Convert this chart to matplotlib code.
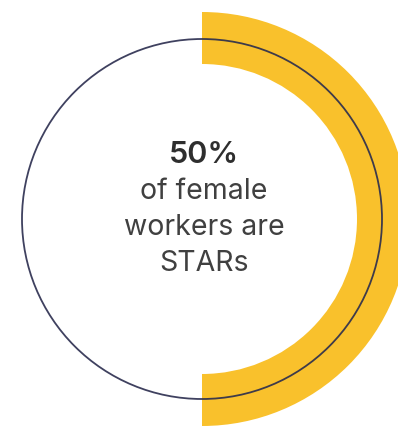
import matplotlib
matplotlib.use("Agg")
import matplotlib.pyplot as plt
from matplotlib.patches import Circle, Wedge

# Share of female workers who are STARs
star_share = [50]
label_lines = ["of female", "workers are", "STARs"]

ring_color = "#F9C12C"
outline_color = "#2A2C4E"
text_color = "#404040"

W, H = 398, 427
fig = plt.figure(figsize=(W / 100, H / 100), dpi=100)
ax = fig.add_axes([0, 0, 1, 1])
ax.set_xlim(0, W)
ax.set_ylim(H, 0)
ax.set_aspect("equal")
ax.axis("off")

cx, cy = 202, 220
r = 180

# Yellow arc: share of the full circle, starting at the top and running clockwise
share = star_share[0]
span = 360 * share / 100
ax.add_patch(Wedge((cx, cy), 207, 90 - span, 90, width=52,
                   facecolor=ring_color, edgecolor="none", zorder=1))
# Thin outline of the whole circle
ax.add_patch(Circle((cx, cy), r, fill=False, edgecolor=outline_color,
                    linewidth=1.3, alpha=0.9, zorder=2))

ax.text(cx + 2, 155, f"{share}%", ha="center", va="center", fontsize=22,
        fontweight="semibold", color="#2E2E2E", family="Inter")
for i, line in enumerate(label_lines):
    ax.text(cx + 2, 192 + i * 36, line, ha="center", va="center", fontsize=20.5,
            color=text_color, family="Inter")

fig.savefig("out.png", dpi=100)
